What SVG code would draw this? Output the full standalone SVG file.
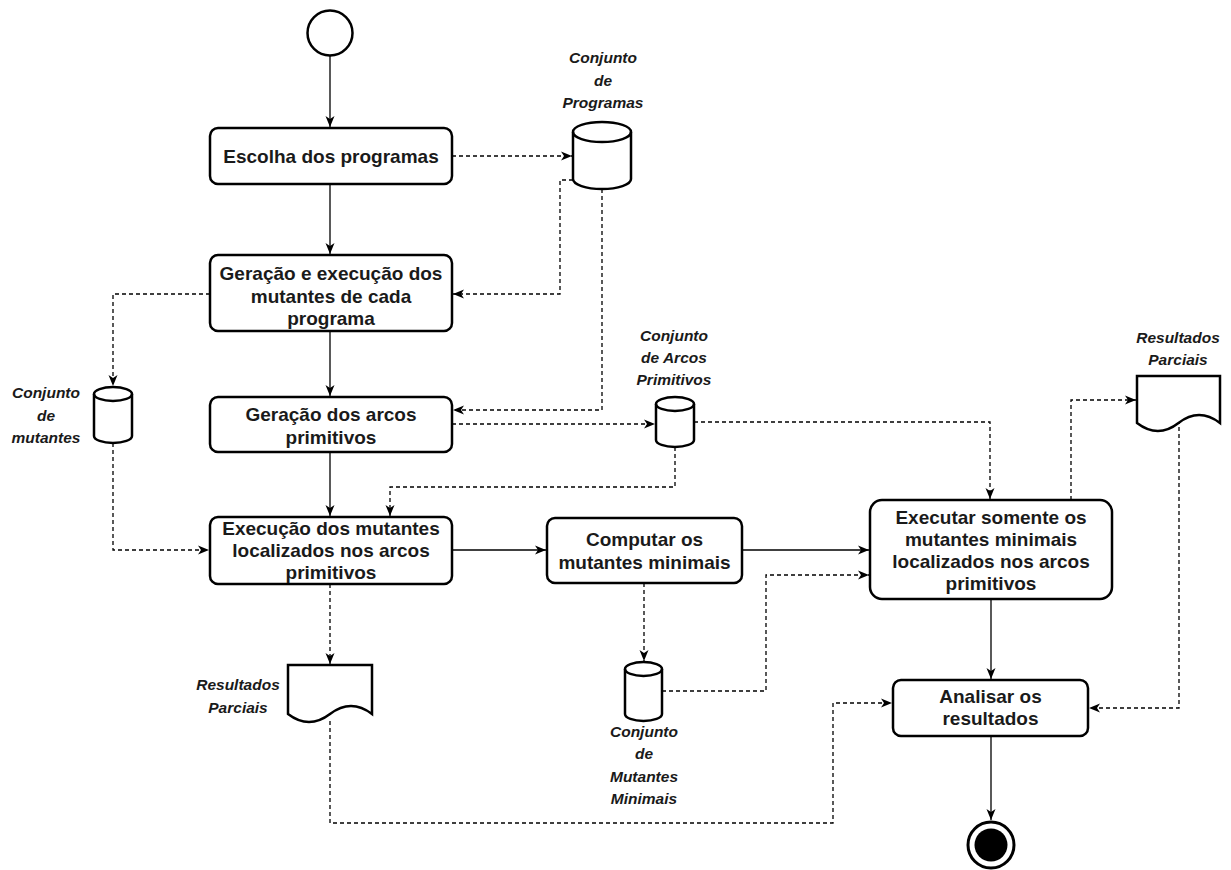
<svg xmlns="http://www.w3.org/2000/svg" width="1231" height="870" viewBox="0 0 1231 870">
<defs>
<style>
.box{fill:#fff;stroke:#000;stroke-width:2.5}
.shp{fill:#fff;stroke:#000;stroke-width:2.5}
.t{font-family:"Liberation Sans",Arial,sans-serif;font-weight:bold;font-size:19px;fill:#1a1a1a;text-anchor:middle}
.l{font-family:"Liberation Sans",Arial,sans-serif;font-weight:bold;font-style:italic;font-size:15.5px;fill:#1a1a1a;text-anchor:middle}
.c{fill:none;stroke:#000;stroke-width:1.3;marker-end:url(#arr)}
.d{stroke-dasharray:4 3}
</style>
<marker id="arr" markerUnits="userSpaceOnUse" markerWidth="12" markerHeight="10" viewBox="0 0 12 10" refX="11" refY="5" orient="auto">
<path d="M0,0.5 L11,5 L0,9.5 L3,5 Z" fill="#000"/>
</marker>
</defs>

<g id="connectors">
<path class="c" d="M330,56 V127"/>
<path class="c" d="M330,184 V254"/>
<path class="c" d="M330,331 V396"/>
<path class="c" d="M330,452 V516"/>
<path class="c" d="M452,550 H546"/>
<path class="c" d="M742,550 H869"/>
<path class="c" d="M991,599 V679"/>
<path class="c" d="M991,736 V820"/>
<path class="c d" d="M452,156 H572"/>
<path class="c d" d="M573,180 H560 V294 H453"/>
<path class="c d" d="M602,189 V410 H453"/>
<path class="c d" d="M210,294 H113 V386"/>
<path class="c d" d="M113,443 V550 H209"/>
<path class="c d" d="M452,424 H655"/>
<path class="c d" d="M675,447 V487 H390 V516"/>
<path class="c d" d="M694,422 H990 V499"/>
<path class="c d" d="M644,583 V661"/>
<path class="c d" d="M662,691 H766 V575 H869"/>
<path class="c d" d="M330,584 V664"/>
<path class="c d" d="M330,721 V823 H833 V703 H892"/>
<path class="c d" d="M1071,500 V400 H1136"/>
<path class="c d" d="M1179,420 V708 H1089"/>
</g>

<g id="start"><circle cx="330" cy="33" r="22.5" class="shp"/></g>

<g id="escolha">
<rect x="210" y="128" width="242" height="56" rx="8" class="box"/>
<text class="t" x="331" y="163">Escolha dos programas</text>
</g>

<g id="geracao-exec">
<rect x="210" y="255" width="242" height="76" rx="8" class="box"/>
<text class="t" x="331" y="280">Geração e execução dos</text>
<text class="t" x="331" y="302.5">mutantes de cada</text>
<text class="t" x="331" y="325">programa</text>
</g>

<g id="geracao-arcos">
<rect x="210" y="397" width="242" height="55" rx="8" class="box"/>
<text class="t" x="331" y="421">Geração dos arcos</text>
<text class="t" x="331" y="443.5">primitivos</text>
</g>

<g id="execucao">
<rect x="210" y="517" width="242" height="67" rx="8" class="box"/>
<text class="t" x="331" y="535">Execução dos mutantes</text>
<text class="t" x="331" y="557">localizados nos arcos</text>
<text class="t" x="331" y="579">primitivos</text>
</g>

<g id="computar">
<rect x="547" y="518" width="195" height="65" rx="8" class="box"/>
<text class="t" x="644.5" y="546">Computar os</text>
<text class="t" x="644.5" y="569">mutantes minimais</text>
</g>

<g id="executar">
<rect x="870" y="500" width="242" height="99" rx="12" class="box"/>
<text class="t" x="991" y="524">Executar somente os</text>
<text class="t" x="991" y="546">mutantes minimais</text>
<text class="t" x="991" y="568">localizados nos arcos</text>
<text class="t" x="991" y="590">primitivos</text>
</g>

<g id="analisar">
<rect x="893" y="680" width="195" height="56" rx="8" class="box"/>
<text class="t" x="990.5" y="703">Analisar os</text>
<text class="t" x="990.5" y="725">resultados</text>
</g>

<g id="end">
<circle cx="991" cy="845" r="23" fill="#fff" stroke="#000" stroke-width="3"/>
<circle cx="991" cy="845" r="16.5" fill="#000"/>
</g>

<g id="conj-programas">
<path class="shp" d="M573,132 A29,10 0 0 1 631,132 V179 A29,10 0 0 1 573,179 Z"/>
<path fill="none" stroke="#000" stroke-width="2.5" d="M573,132 A29,10 0 0 0 631,132"/>
<text class="l" x="603" y="63">Conjunto</text>
<text class="l" x="603" y="86">de</text>
<text class="l" x="603" y="108">Programas</text>
</g>

<g id="conj-mutantes">
<path class="shp" d="M94,394 A19,7 0 0 1 132,394 V436 A19,7 0 0 1 94,436 Z"/>
<path fill="none" stroke="#000" stroke-width="2.5" d="M94,394 A19,7 0 0 0 132,394"/>
<text class="l" x="46" y="398">Conjunto</text>
<text class="l" x="46" y="421">de</text>
<text class="l" x="46" y="443">mutantes</text>
</g>

<g id="conj-arcos">
<path class="shp" d="M656,404 A19,7 0 0 1 694,404 V440 A19,7 0 0 1 656,440 Z"/>
<path fill="none" stroke="#000" stroke-width="2.5" d="M656,404 A19,7 0 0 0 694,404"/>
<text class="l" x="674" y="341">Conjunto</text>
<text class="l" x="674" y="363">de Arcos</text>
<text class="l" x="674" y="385">Primitivos</text>
</g>

<g id="conj-minimais">
<path class="shp" d="M625,669 A18.5,7 0 0 1 662,669 V714 A18.5,7 0 0 1 625,714 Z"/>
<path fill="none" stroke="#000" stroke-width="2.5" d="M625,669 A18.5,7 0 0 0 662,669"/>
<text class="l" x="644" y="737">Conjunto</text>
<text class="l" x="644" y="759">de</text>
<text class="l" x="644" y="782">Mutantes</text>
<text class="l" x="644" y="804">Minimais</text>
</g>

<g id="resultados-1">
<path class="shp" d="M288,665 H372 V714 Q351,698 330,714 Q309,730 288,714 Z"/>
<text class="l" x="238" y="690">Resultados</text>
<text class="l" x="238" y="713">Parciais</text>
</g>

<g id="resultados-2">
<path class="shp" d="M1137,376 H1220 V423 Q1199,407 1178.5,423 Q1158,439 1137,423 Z"/>
<text class="l" x="1178" y="343">Resultados</text>
<text class="l" x="1178" y="365">Parciais</text>
</g>
</svg>
